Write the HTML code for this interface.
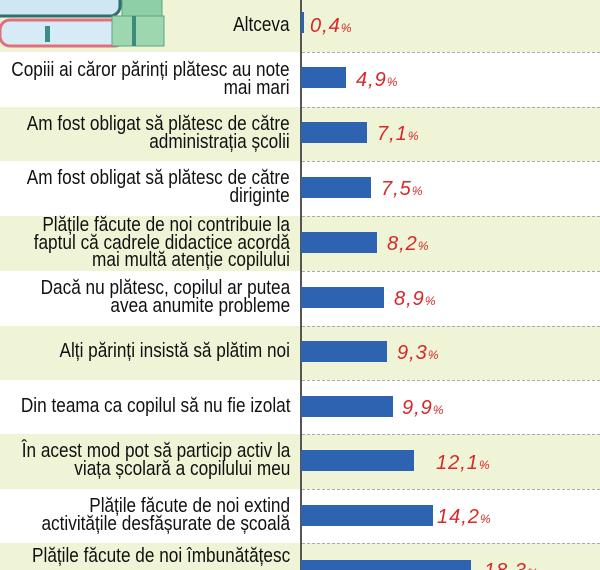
<!DOCTYPE html>
<html><head><meta charset="utf-8"><style>
html,body{margin:0;width:600px;height:570px;overflow:hidden}
body{position:relative;background:#fff;font-family:"Liberation Sans",sans-serif}
.row{position:absolute;left:0;width:600px}
.g{background:#eff4d7}
.dash{position:absolute;left:302px;right:0;border-top:1px dashed #aaa}
.lab{position:absolute;right:310px;text-align:right;font-size:20px;line-height:17.5px;color:#111;white-space:nowrap;transform:scaleX(.86);transform-origin:right center}
.bar{position:absolute;left:301px;height:21px;background:#2e63b1}
.val{position:absolute;color:#d8282a;font-style:italic;font-size:20px;line-height:20px;letter-spacing:1px}
.val small{font-size:12px}
.axis{position:absolute;left:300px;top:0;width:1.5px;height:570px;background:#555}
</style></head><body>
<div class="row g" style="top:0;height:52px"></div>
<div class="row g" style="top:107px;height:54px"></div>
<div class="row g" style="top:216px;height:55px"></div>
<div class="row g" style="top:326px;height:54px"></div>
<div class="row g" style="top:434px;height:55px"></div>
<div class="row g" style="top:543px;height:27px"></div>
<div class="dash" style="top:52px"></div><div class="dash" style="top:107px"></div><div class="dash" style="top:161px"></div><div class="dash" style="top:216px"></div><div class="dash" style="top:271px"></div><div class="dash" style="top:326px"></div><div class="dash" style="top:380px"></div><div class="dash" style="top:434px"></div><div class="dash" style="top:489px"></div><div class="dash" style="top:543px"></div>
<svg style="position:absolute;left:0;top:0" width="200" height="50">
<rect x="-10" y="-12" width="130" height="28" rx="10" fill="#cfe6f3" stroke="#2d6e6e" stroke-width="3"/>
<rect x="0" y="20" width="125" height="26" rx="10" fill="#d6ebf5" stroke="#e0707e" stroke-width="3"/>
<rect x="45" y="26" width="5" height="16" fill="#3b8c8c"/>
<rect x="122" y="-5" width="40" height="25" fill="#8fcfa8" stroke="#5aa57c"/>
<rect x="112" y="16" width="52" height="30" fill="#9ed6b0" stroke="#5aa57c"/>
<rect x="132" y="16" width="4" height="30" fill="#3b8c7c"/>
</svg>
<div class="axis"></div>
<div class="lab" style="top:17px">Altceva</div>
<div class="bar" style="top:12px;width:3px"></div><div class="val" style="left:310px;top:16px">0,4<small>%</small></div>
<div class="lab" style="top:62px">Copiii ai căror părinți plătesc au note<br>mai mari</div>
<div class="bar" style="top:67px;width:45px"></div><div class="val" style="left:356px;top:70px">4,9<small>%</small></div>
<div class="lab" style="top:116px">Am fost obligat să plătesc de către<br>administrația școlii</div>
<div class="bar" style="top:122px;width:66px"></div><div class="val" style="left:377px;top:124px">7,1<small>%</small></div>
<div class="lab" style="top:170px">Am fost obligat să plătesc de către<br>diriginte</div>
<div class="bar" style="top:177px;width:70px"></div><div class="val" style="left:381px;top:179px">7,5<small>%</small></div>
<div class="lab" style="top:217px">Plățile făcute de noi contribuie la<br>faptul că cadrele didactice acordă<br>mai multă atenție copilului</div>
<div class="bar" style="top:232px;width:76px"></div><div class="val" style="left:387px;top:234px">8,2<small>%</small></div>
<div class="lab" style="top:280px">Dacă nu plătesc, copilul ar putea<br>avea anumite probleme</div>
<div class="bar" style="top:287px;width:83px"></div><div class="val" style="left:394px;top:289px">8,9<small>%</small></div>
<div class="lab" style="top:343px">Alți părinți insistă să plătim noi</div>
<div class="bar" style="top:341px;width:86px"></div><div class="val" style="left:397px;top:343px">9,3<small>%</small></div>
<div class="lab" style="top:398px">Din teama ca copilul să nu fie izolat</div>
<div class="bar" style="top:396px;width:92px"></div><div class="val" style="left:402px;top:398px">9,9<small>%</small></div>
<div class="lab" style="top:443px">În acest mod pot să particip activ la<br>viața școlară a copilului meu</div>
<div class="bar" style="top:450px;width:113px"></div><div class="val" style="left:436px;top:453px">12,1<small>%</small></div>
<div class="lab" style="top:498px">Plățile făcute de noi extind<br>activitățile desfășurate de școală</div>
<div class="bar" style="top:505px;width:132px"></div><div class="val" style="left:437px;top:507px">14,2<small>%</small></div>
<div class="lab" style="top:548px">Plățile făcute de noi îmbunătățesc</div>
<div class="bar" style="top:560px;width:170px"></div><div class="val" style="left:484px;top:561px">18,3<small>%</small></div>
</body></html>
